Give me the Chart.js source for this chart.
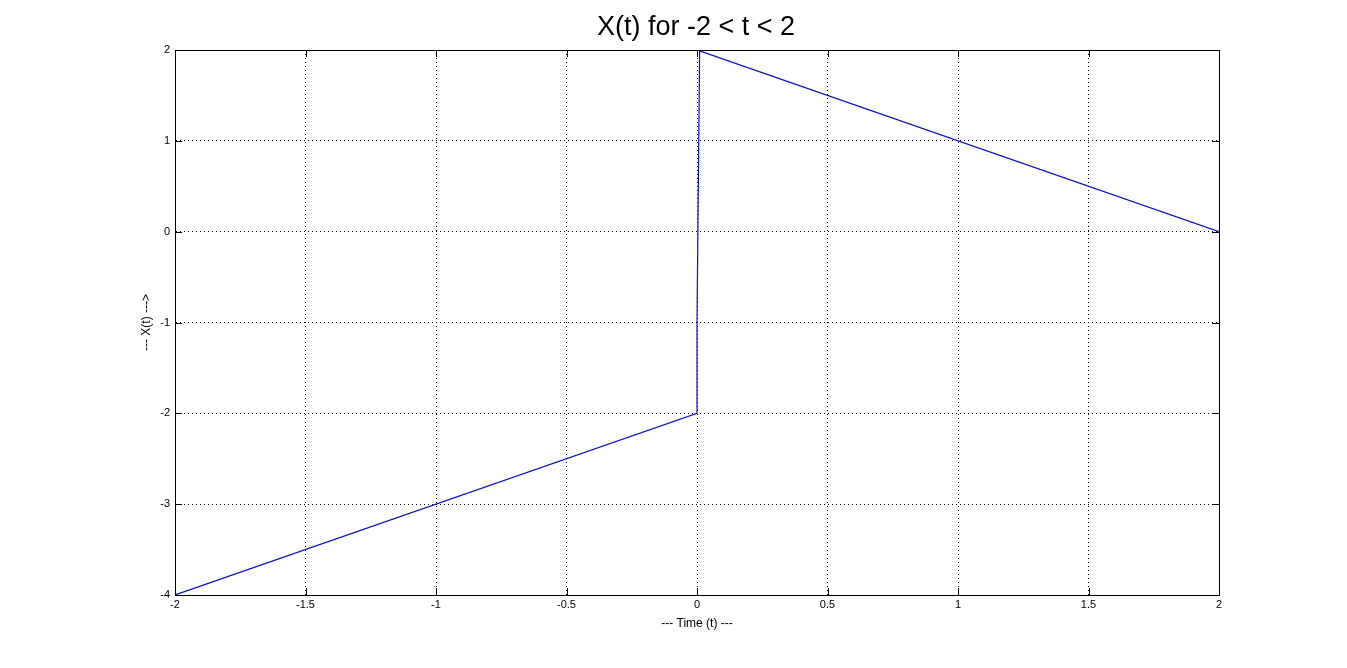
<!DOCTYPE html>
<html>
<head>
<meta charset="utf-8">
<title>X(t) for -2 < t < 2</title>
<script src="https://cdn.jsdelivr.net/npm/chart.js@4/dist/chart.umd.min.js"></script>
<style>
  html, body { margin: 0; padding: 0; background: #fff; }
  #wrap { width: 1347px; height: 668px; }
</style>
</head>
<body>
<div id="wrap"><canvas id="plot" width="1347" height="668"></canvas></div>
<script>
// corner points of the signal
const timeValues = [-2, 0, 0, 0.01, 2];
const signalValues = [-4, -2, -1, 1.99, 0];

const xTicks = [-2, -1.5, -1, -0.5, 0, 0.5, 1, 1.5, 2];
const yTicks = [-4, -3, -2, -1, 0, 1, 2];

const TITLE = "X(t) for -2 < t < 2";
const FONT = "'Liberation Sans', Arial, Helvetica, sans-serif";

const points = timeValues.map((t, i) => ({ x: t, y: signalValues[i] }));

// box round the axes, inward tick marks and the title centred over the axes
const boxPlugin = {
  id: "box",
  afterDraw(chart) {
    const { ctx, chartArea: a, scales } = chart;
    const len = 7;
    ctx.save();
    ctx.strokeStyle = "#000";
    ctx.lineWidth = 1;
    ctx.beginPath();
    for (const v of xTicks) {
      const px = Math.round(scales.x.getPixelForValue(v)) + 0.5;
      ctx.moveTo(px, a.bottom); ctx.lineTo(px, a.bottom - len);
      ctx.moveTo(px, a.top); ctx.lineTo(px, a.top + len);
    }
    for (const v of yTicks) {
      const py = Math.round(scales.y.getPixelForValue(v)) + 0.5;
      ctx.moveTo(a.left, py); ctx.lineTo(a.left + len, py);
      ctx.moveTo(a.right, py); ctx.lineTo(a.right - len, py);
    }
    ctx.stroke();
    ctx.strokeRect(Math.round(a.left) + 0.5, Math.round(a.top) + 0.5,
      Math.round(a.right - a.left), Math.round(a.bottom - a.top));

    ctx.fillStyle = "#000";
    ctx.font = `27px ${FONT}`;
    ctx.textAlign = "center";
    ctx.textBaseline = "middle";
    ctx.fillText(TITLE, (a.left + a.right) / 2 - 1, 28);
    ctx.restore();
  },
};

new Chart(document.getElementById("plot"), {
  type: "scatter",
  data: {
    datasets: [{
      data: points,
      showLine: true,
      borderColor: "#1010c0",
      borderWidth: 1.2,
      pointRadius: 0,
      tension: 0,
    }],
  },
  options: {
    responsive: false,
    animation: false,
    layout: { padding: { left: 128, right: 128, top: 50, bottom: 37 } },
    plugins: {
      legend: { display: false },
      tooltip: { enabled: false },
      title: { display: false },
    },
    scales: {
      x: {
        type: "linear",
        min: -2,
        max: 2,
        afterBuildTicks(scale) { scale.ticks = xTicks.map((v) => ({ value: v })); },
        afterFit(scale) { scale.height = 36; },
        ticks: {
          color: "#000",
          font: { family: FONT, size: 11 },
          padding: 3,
          maxRotation: 0,
          autoSkip: false,
          callback: (v) => String(v),
        },
        grid: { color: "#000", lineWidth: 1, drawTicks: false },
        border: { display: true, color: "#000", dash: [1, 3] },
        title: {
          display: true,
          text: "--- Time (t) ---",
          color: "#000",
          font: { family: FONT, size: 12 },
          padding: { top: 2, bottom: 0 },
        },
      },
      y: {
        type: "linear",
        min: -4,
        max: 2,
        afterBuildTicks(scale) { scale.ticks = yTicks.map((v) => ({ value: v })); },
        afterFit(scale) { scale.width = 47; },
        ticks: {
          color: "#000",
          font: { family: FONT, size: 11 },
          padding: 5,
          autoSkip: false,
          callback: (v) => String(v),
        },
        grid: { color: "#000", lineWidth: 1, drawTicks: false },
        border: { display: true, color: "#000", dash: [1, 3] },
        title: {
          display: true,
          text: "--- X(t) --->",
          color: "#000",
          font: { family: FONT, size: 12 },
          padding: { top: 11, bottom: 0 },
        },
      },
    },
  },
  plugins: [boxPlugin],
});
</script>
</body>
</html>
